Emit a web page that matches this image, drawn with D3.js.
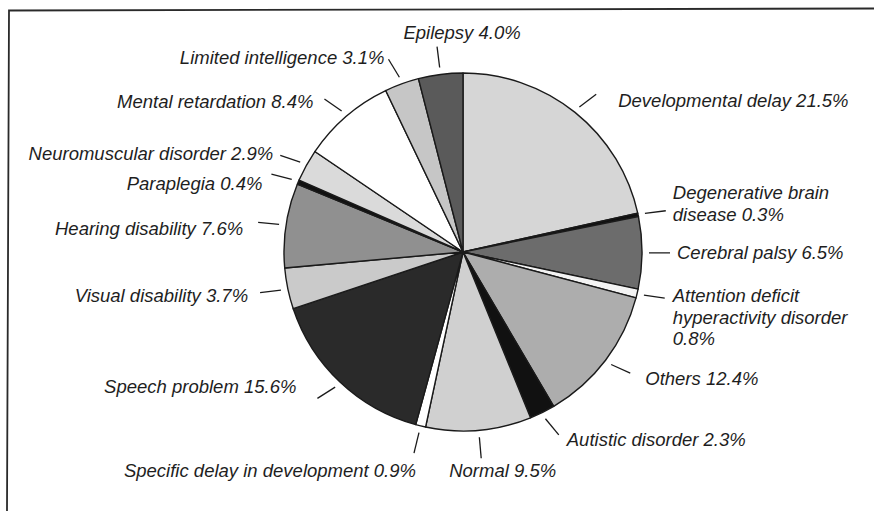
<!DOCTYPE html>
<meta charset="utf-8">
<style>
  body { margin: 0; background: #fff; }
  .lbl text { font-family: 'Liberation Sans', Arial, sans-serif; font-style: italic; font-size: 18.5px; fill: #1e1e1e; }
</style>
<body>
<div id="chart"></div>
<script src="https://cdn.jsdelivr.net/npm/d3@7"></script>
<script>

// slices, clockwise from 12 o'clock
var categories = ["Developmental delay", "Degenerative brain disease", "Cerebral palsy",
  "Attention deficit hyperactivity disorder", "Others", "Autistic disorder", "Normal",
  "Specific delay in development", "Speech problem", "Visual disability", "Hearing disability",
  "Paraplegia", "Neuromuscular disorder", "Mental retardation", "Limited intelligence", "Epilepsy"];
var shares = [21.5, 0.3, 6.5, 0.8, 12.4, 2.3, 9.5, 0.9, 15.6, 3.7, 7.6, 0.4, 2.9, 8.4, 3.1, 4.0];

// labels that wrap over more than one line
var wrapped = {
  "Degenerative brain disease": ["Degenerative brain", "disease"],
  "Attention deficit hyperactivity disorder": ["Attention deficit", "hyperactivity disorder", ""]
};

var width = 874, height = 511;
var cx = 463, cy = 252, radius = 179;

var svg = d3.select("#chart").append("svg")
    .attr("width", width)
    .attr("height", height);

// frame (only top and left edges show in the scan)
svg.append("path")
    .attr("d", "M874,8.5L9,10.5L7,511")
    .style("fill", "none")
    .style("stroke", "#2a2a2a")
    .style("stroke-width", 1.8);

var fill = d3.scaleOrdinal()
    .domain(categories)
    .range(["#d6d6d6", "#111", "#6c6c6c", "#f3f3f3", "#adadad", "#111", "#d0d0d0",
            "#fff", "#2a2a2a", "#cacaca", "#909090", "#111", "#dadada", "#fff", "#c6c6c6", "#5a5a5a"]);

var pie = d3.pie().sort(null).value(function(d, i) { return shares[i]; });
var arcs = pie(categories);

var arc = d3.arc().innerRadius(0).outerRadius(radius);

var g = svg.append("g").attr("transform", "translate(" + cx + "," + cy + ")");

g.selectAll("path.slice")
    .data(arcs)
  .enter().append("path")
    .attr("class", "slice")
    .attr("d", arc)
    .style("fill", function(d) { return fill(d.data); })
    .style("stroke", "#1a1a1a")
    .style("stroke-width", 1.4)
    .style("stroke-linejoin", "round");

// small hand nudges for the label text, as in the original layout
var labelNudge = [[14, 6], [-1, -7], [-1, 0], [0, 19], [7, 5], [0, 5], [-26, -2], [-4, 3],
                  [-13, -12], [-4, 3], [-7, 6], [-1, 9], [1, -2], [-3, 2], [4, -2], [25, 0]];

var rIn = radius + 7, leaderLen = 21, lineH = 21.5;

var lbl = g.append("g").attr("class", "lbl");

arcs.forEach(function(d, i) {
  var a = (d.startAngle + d.endAngle) / 2;
  var s = Math.sin(a), c = Math.cos(a);
  var x0 = s * rIn, y0 = -c * rIn;
  var dx, dy, side = Math.abs(s) >= 0.3;
  if (side) {
    dx = s; dy = -c * 0.6;
    var n = Math.sqrt(dx * dx + dy * dy);
    dx /= n; dy /= n;
  } else {
    dx = s; dy = -c;
  }
  var x1 = x0 + dx * leaderLen, y1 = y0 + dy * leaderLen;

  lbl.append("line")
      .attr("x1", x0).attr("y1", y0)
      .attr("x2", x1).attr("y2", y1)
      .style("stroke", "#1a1a1a")
      .style("stroke-width", 1.3);

  var value = d3.format(".1f")(shares[i]) + "%";
  var lines = wrapped[d.data] ? wrapped[d.data].slice() : [d.data];
  var last = lines.length - 1;
  lines[last] = lines[last] ? lines[last] + " " + value : value;

  var anchor, tx, ty;
  if (side) {
    anchor = s > 0 ? "start" : "end";
    tx = x1 + (s > 0 ? 8 : -8);
    ty = y1;
  } else if (c > 0) {
    anchor = "middle";
    tx = x1;
    ty = y1 - 14;
  } else {
    anchor = s < 0 ? "end" : "start";
    tx = x1 + (s < 0 ? 6 : -6);
    ty = y1 + 14;
  }
  tx += labelNudge[i][0];
  ty += labelNudge[i][1] - last * lineH / 2;

  var t = lbl.append("text")
      .attr("text-anchor", anchor)
      .attr("x", tx)
      .attr("y", ty);
  lines.forEach(function(line, k) {
    t.append("tspan")
        .attr("x", tx)
        .attr("y", ty + k * lineH)
        .attr("dy", "0.35em")
        .text(line);
  });
});

</script>
</body>
